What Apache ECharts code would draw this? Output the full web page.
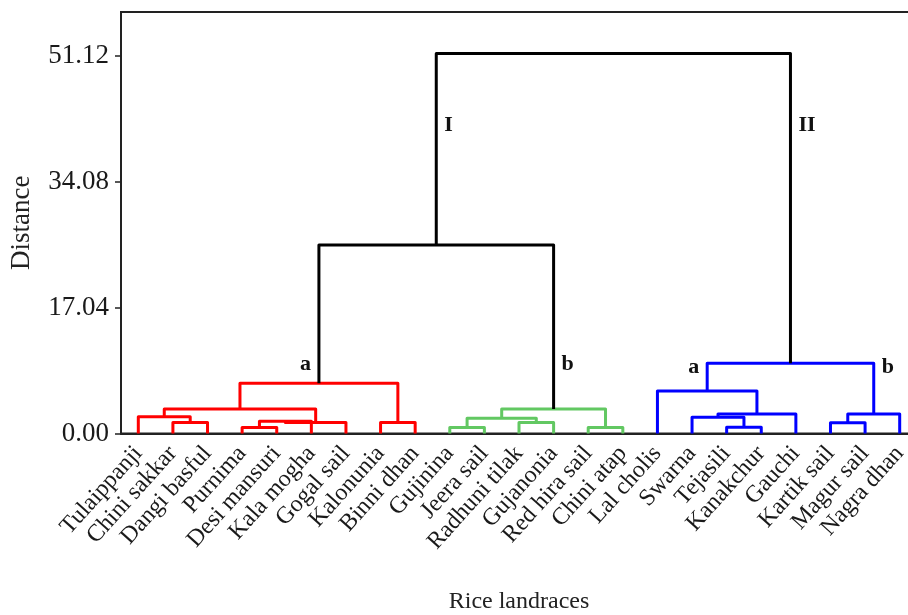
<!DOCTYPE html>
<html>
<head>
<meta charset="utf-8">
<script src="https://cdn.jsdelivr.net/npm/echarts@6/dist/echarts.min.js"></script>
<style>html,body{margin:0;padding:0;background:#fff;}#c{width:908px;height:615px;}</style>
</head>
<body>
<div id="c"></div>
<script>
// ---- data ----
const leaves = ['Tulaippanji','Chini sakkar','Dangi basful','Purnima','Desi mansuri','Kala mogha','Gogal sail','Kalonunia','Binni dhan',
  'Gujinina','Jeera sail','Radhuni tilak','Gujanonia','Red hira sail','Chini atap',
  'Lal cholis','Swarna','Tejasili','Kanakchur','Gauchi','Kartik sail','Magur sail','Nagra dhan'];
// merges: [left node, right node, distance, group]; new node ids start at leaves.length
const merges = [
  [1, 2, 1.5, 'r'],     // 23
  [0, 23, 2.27, 'r'],   // 24
  [3, 4, 0.8, 'r'],     // 25
  [25, 5, 1.65, 'r'],   // 26
  [26, 6, 1.5, 'r'],    // 27
  [24, 27, 3.3, 'r'],   // 28
  [7, 8, 1.5, 'r'],     // 29
  [28, 29, 6.8, 'r'],   // 30
  [9, 10, 0.8, 'g'],    // 31
  [11, 12, 1.5, 'g'],   // 32
  [31, 32, 2.05, 'g'],  // 33
  [13, 14, 0.8, 'g'],   // 34
  [33, 34, 3.3, 'g'],   // 35
  [30, 35, 25.5, 'k'],  // 36
  [17, 18, 0.83, 'b'],  // 37
  [16, 37, 2.2, 'b'],   // 38
  [38, 19, 2.65, 'b'],  // 39
  [15, 39, 5.75, 'b'],  // 40
  [20, 21, 1.46, 'b'],  // 41
  [41, 22, 2.65, 'b'],  // 42
  [40, 42, 9.5, 'b'],   // 43
  [36, 43, 51.4, 'k']   // 44
];
const yTicks = [0, 17.04, 34.08, 51.12];
// cluster annotations: [text, merge index, child side (0 left / 1 right), height]
const annotations = [
  ['I', 21, 0, 41.7], ['II', 21, 1, 41.7],
  ['a', 13, 0, 9.3], ['b', 13, 1, 9.3],
  ['a', 20, 0, 8.9], ['b', 20, 1, 8.9]
];

// ---- layout of dendrogram ----
const groupColor = { r: '#ff0000', g: '#62c862', b: '#0000ff', k: '#000000' };
const nodeX = leaves.map((_, i) => i);
const nodeH = leaves.map(() => 0);
merges.forEach(([a, b, h]) => { nodeX.push((nodeX[a] + nodeX[b]) / 2); nodeH.push(h); });
const links = merges.map(([a, b, h, g]) => [nodeX[a], nodeH[a], nodeX[b], nodeH[b], h, g]);
const annData = annotations.map(([t, m, side, h]) => {
  const [a, b] = merges[m];
  const child = side === 0 ? a : b;
  return [nodeX[child], h, t];
});
// annotation placement relative to the vertical line: +1 right, -1 left
const annDir = [1, 1, -1, 1, -1, 1];

const serif = '"Liberation Serif", "Times New Roman", serif';
const chart = echarts.init(document.getElementById('c'));
chart.setOption({
  animation: false,
  backgroundColor: '#fff',
  grid: { left: 121, top: 12, width: 796, bottom: 181.5, show: true, borderColor: '#222', borderWidth: 2,
          backgroundColor: 'transparent', outerBoundsMode: 'none', containLabel: false },
  xAxis: [{
    type: 'category',
    data: leaves,
    boundaryGap: true,
    name: 'Rice landraces',
    nameLocation: 'middle',
    nameGap: 156,
    nameTextStyle: { fontFamily: serif, fontSize: 24, color: '#222' },
    axisLine: { lineStyle: { color: '#222', width: 2 } },
    axisTick: { alignWithLabel: true, length: 6, lineStyle: { color: '#222', width: 1.5 } },
    axisLabel: { rotate: 48, interval: 0, margin: 16, fontFamily: serif, fontSize: 24, color: '#1a1a1a' },
    splitLine: { show: false }
  }, {
    type: 'value', min: -0.5, max: leaves.length - 0.5, show: false
  }],
  yAxis: {
    type: 'value',
    min: 0, max: 57,
    name: 'Distance',
    nameLocation: 'middle',
    nameGap: 86,
    nameRotate: 90,
    nameTextStyle: { fontFamily: serif, fontSize: 27, color: '#222' },
    axisLine: { show: true, onZero: false, lineStyle: { color: '#222', width: 2 } },
    axisTick: { show: true, length: 6, customValues: yTicks, lineStyle: { color: '#222', width: 1.5 } },
    axisLabel: { customValues: yTicks, margin: 12, fontFamily: serif, fontSize: 27, color: '#1a1a1a', formatter: v => v.toFixed(2) },
    splitLine: { show: false }
  },
  series: [{
    type: 'custom',
    xAxisIndex: 1,
    data: links.map(l => l.slice(0, 5)),
    renderItem: (params, api) => {
      const l = links[params.dataIndex];
      const pA = api.coord([l[0], l[1]]);
      const pAh = api.coord([l[0], l[4]]);
      const pBh = api.coord([l[2], l[4]]);
      const pB = api.coord([l[2], l[3]]);
      return {
        type: 'polyline',
        shape: { points: [pA, pAh, pBh, pB] },
        style: { stroke: groupColor[l[5]], lineWidth: 3, fill: null, lineJoin: 'round' }
      };
    }
  }, {
    type: 'custom',
    xAxisIndex: 1,
    data: annData.map(d => [d[0], d[1]]),
    renderItem: (params, api) => {
      const d = annData[params.dataIndex];
      const p = api.coord([d[0], d[1]]);
      const dir = annDir[params.dataIndex];
      return {
        type: 'text',
        x: p[0] + dir * 8,
        y: p[1],
        style: { text: d[2], fill: '#111', font: 'bold 22px ' + serif, align: dir > 0 ? 'left' : 'right', verticalAlign: 'middle' }
      };
    }
  }]
});
</script>
</body>
</html>
